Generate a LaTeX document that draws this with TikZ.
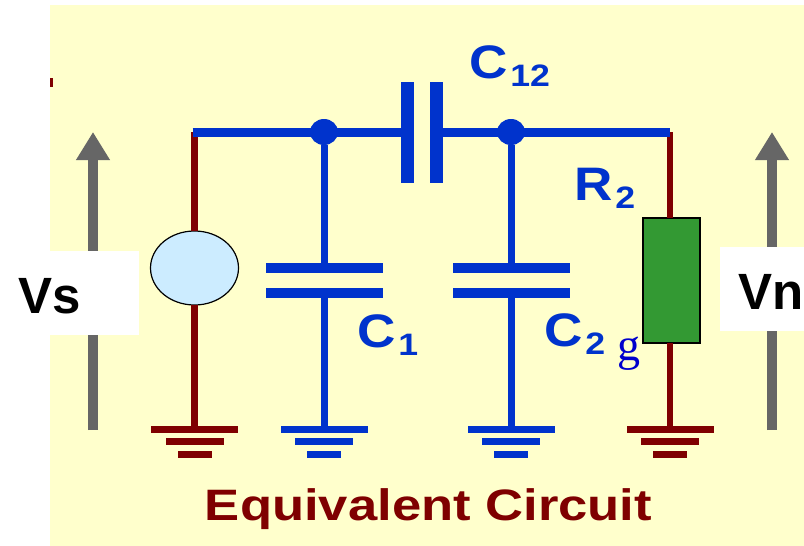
\documentclass[tikz,border=0pt]{standalone}
\usepackage{fontspec}
\setmainfont{Liberation Sans}
\newfontfamily\gfont{Liberation Serif}
\usetikzlibrary{arrows.meta,shapes.geometric}
\definecolor{paper}{HTML}{FFFFCC}
\definecolor{wireblue}{HTML}{0033CC}
\definecolor{wirered}{HTML}{7F0000}
\definecolor{arrowgray}{HTML}{666666}
\definecolor{srcblue}{HTML}{CCECFF}
\definecolor{resgreen}{HTML}{339933}
\newcommand{\sublabel}[2]{\fontsize{47}{47}\bfseries\selectfont \scalebox{1.13}[1]{#1}\hspace{3pt}\raisebox{-8.5pt}{\fontsize{31}{31}\selectfont \scalebox{1.15}[1]{#2}}}
\begin{document}
\begin{tikzpicture}[x=1pt,y=-1pt,
  every node/.style={inner sep=0pt,outer sep=0pt},
  blue wire/.style={draw=wireblue,line width=7pt},
  top wire/.style={draw=wireblue,line width=9pt},
  red wire/.style={draw=wirered,line width=6.5pt},
  plate/.style={fill=wireblue,minimum width=117pt,minimum height=10pt},
  vplate/.style={fill=wireblue,minimum width=13pt,minimum height=101pt},
  joint/.style={ellipse,fill=wireblue,minimum width=28pt,minimum height=26pt},
  bar/.style={minimum height=7pt},
  vlabel/.style={fill=white,minimum width=#1,minimum height=84pt},
  vtext/.style={anchor=base west,font=\fontsize{51}{51}\bfseries\selectfont},
  label/.style={anchor=base west,text=wireblue},
  volt/.style={draw=arrowgray,line width=10pt,-{Triangle[length=28pt,width=32pt,fill=arrowgray]}}]
\useasboundingbox (0,0) rectangle (804,546);
\fill[paper] (50,5) rectangle (804,546);
\fill[wirered] (50,78) rectangle (53,87);
% arrows
\coordinate (vsbot) at (93,430);
\coordinate (vstop) at (93,132);
\coordinate (vnbot) at (772,430);
\coordinate (vntop) at (772,132);
\draw[volt] (vsbot) -- (vstop);
\draw[volt] (vnbot) -- (vntop);
\node[vlabel=139pt] (vsbox) at (69.5,293) {};
\node[vlabel=84pt] (vnbox) at (762,289) {};
\node[vtext] (vs) at (18,313) {Vs};
\node[vtext] (vn) at (738,309) {Vn};
% parts
\node[draw=black,line width=1.2pt,fill=srcblue,ellipse,minimum width=88pt,minimum height=74pt] (src) at (194.5,268) {};
\node[draw=black,line width=1.2pt,fill=resgreen,minimum width=57pt,minimum height=125pt] (r2) at (671.5,280.5) {};
\node[plate] (c1a) at (324,268) {};
\node[plate] (c1b) at (324,293) {};
\node[plate] (c2a) at (511,268) {};
\node[plate] (c2b) at (511,293) {};
\node[vplate] (c12a) at (407,132) {};
\node[vplate] (c12b) at (436,132) {};
\node[joint] (j1) at (324,132) {};
\node[joint] (j2) at (511,132) {};
\coordinate (tl) at (194.5,132);
\coordinate (tr) at (670,132);
% grounds
\foreach \gname/\gx/\gcol in {g0/194.5/wirered,g1/324/wireblue,g2/511/wireblue,g3/670/wirered}{
  \node[bar,fill=\gcol,minimum width=87pt] (\gname) at (\gx,429) {};
  \node[bar,fill=\gcol,minimum width=58pt] (\gname b) at (\gx,441.5) {};
  \node[bar,fill=\gcol,minimum width=34pt] (\gname c) at (\gx,454) {};
}
% wires
\draw[red wire] (tl) -- (src.north);
\draw[red wire] (src.south) -- (g0.north);
\draw[red wire] (tr) -- (tr |- r2.north);
\draw[red wire] (tr |- r2.south) -- (g3.north);
\draw[top wire] ([xshift=-2pt]tl) -- (c12a.center);
\draw[top wire] (c12b.center) -- (tr);
\draw[blue wire] (j1) -- (c1a);
\draw[blue wire] (c1b) -- (g1.north);
\draw[blue wire] (j2) -- (c2a);
\draw[blue wire] (c2b) -- (g2.north);
% labels
\node[label] (c12) at (469,78) {\sublabel{C}{12}};
\node[label] (r2lab) at (574,200) {\sublabel{R}{2}};
\node[label] (c1lab) at (357,347) {\sublabel{C}{1}};
\node[label] (c2lab) at (544,346) {\sublabel{C}{2}};
\node[anchor=base west,text=blue!80!black,font=\gfont\fontsize{46}{46}\selectfont] (g) at (617,360) {g};
\node[anchor=base,text=wirered,font=\fontsize{44}{44}\bfseries\selectfont] (title) at (428.5,520) {\scalebox{1.195}[1]{Equivalent Circuit}};
\end{tikzpicture}
\end{document}
